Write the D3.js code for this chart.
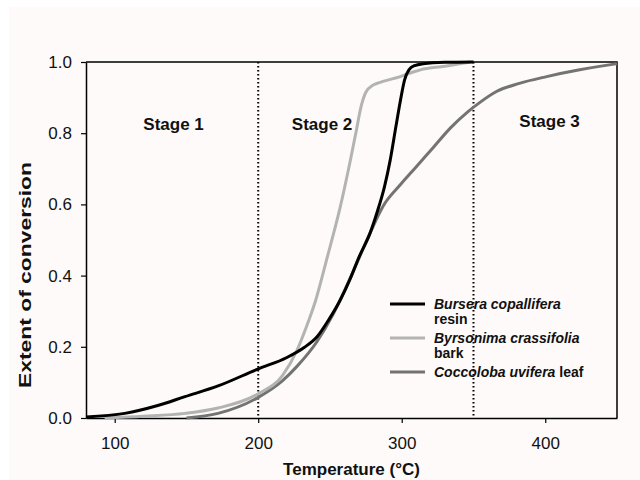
<!DOCTYPE html>
<html>
<head>
<meta charset="utf-8">
<script src="https://cdn.jsdelivr.net/npm/d3@7"></script>
<style>
  html, body { margin: 0; padding: 0; background: #fff; }
  svg { display: block; }
</style>
</head>
<body>
<svg id="chart" width="640" height="480"></svg>
<script>
(() => {

  // temperatures (°C) and extent of conversion
  const burseraT = [80, 107, 130, 149, 172, 200, 220, 232, 241, 249, 257, 264, 270, 278, 283, 288, 292, 296, 299, 302, 305, 309, 315, 330, 350]
  const burseraV = [0.003, 0.013, 0.035, 0.06, 0.09, 0.138, 0.17, 0.198, 0.228, 0.275, 0.33, 0.39, 0.45, 0.52, 0.58, 0.65, 0.725, 0.82, 0.89, 0.95, 0.978, 0.99, 0.995, 0.999, 1.0]

  const byrsonimaT = [93, 120, 149, 172, 200, 217, 227, 233, 240, 248, 257, 264, 268, 272, 275, 280, 285, 299, 308, 313, 330, 348]
  const byrsonimaV = [0.0, 0.005, 0.013, 0.028, 0.068, 0.12, 0.19, 0.25, 0.33, 0.45, 0.59, 0.72, 0.8, 0.88, 0.915, 0.935, 0.943, 0.959, 0.972, 0.978, 0.988, 1.0]

  const coccolobaT = [150, 172, 200, 217, 227, 241, 252, 266, 278, 287, 299, 310, 322, 334, 346, 355, 366, 382, 401, 424, 448, 450]
  const coccolobaV = [0.0, 0.013, 0.058, 0.105, 0.145, 0.215, 0.29, 0.41, 0.52, 0.595, 0.655, 0.705, 0.76, 0.815, 0.86, 0.888, 0.917, 0.94, 0.959, 0.978, 0.994, 0.995]

  const series = [
    { name: 'Bursera copallifera', tail: 'resin', T: burseraT, V: burseraV, color: '#000000' },
    { name: 'Byrsonima crassifolia', tail: 'bark', T: byrsonimaT, V: byrsonimaV, color: '#b3b3b3' },
    { name: 'Coccoloba uvifera', tail: 'leaf', T: coccolobaT, V: coccolobaV, color: '#737373' }
  ]

  const xTicks = [100, 200, 300, 400]
  const yTicks = [0, 0.2, 0.4, 0.6, 0.8, 1.0]
  const stageBounds = [200, 350]
  const stages = [
    { label: 'Stage 1', t: 141, v: 0.809 },
    { label: 'Stage 2', t: 244.5, v: 0.809 },
    { label: 'Stage 3', t: 403, v: 0.817 }
  ]

  const left = 86, right = 617, top = 62, bottom = 418
  const font = 'Arial, "Liberation Sans", sans-serif'

  const x = d3.scaleLinear().domain([80, 450]).range([left, right])
  const y = d3.scaleLinear().domain([0, 1]).range([bottom, top])

  const svg = d3.select('#chart')
    .style('font-family', font)

  svg.append('rect')
    .attr('x', 9).attr('y', 7)
    .attr('width', 631).attr('height', 473)
    .attr('fill', '#fdfaf9')

  // stage separators
  svg.append('g').selectAll('line')
    .data(stageBounds)
    .join('line')
    .attr('x1', d => x(d)).attr('x2', d => x(d))
    .attr('y1', top).attr('y2', bottom)
    .attr('stroke', '#000')
    .attr('stroke-width', 2)
    .attr('stroke-dasharray', '1.5,2.5')

  // axes
  const xAxis = svg.append('g')
    .attr('transform', `translate(0,${bottom})`)
    .call(d3.axisBottom(x).tickValues(xTicks).tickSize(5).tickPadding(14).tickSizeOuter(0))
  const yAxis = svg.append('g')
    .attr('transform', `translate(${left},0)`)
    .call(d3.axisLeft(y).tickValues(yTicks).tickFormat(d3.format('.1f')).tickSize(5).tickPadding(9).tickSizeOuter(0))

  for (const ax of [xAxis, yAxis]) {
    ax.select('.domain').attr('stroke', '#000').attr('stroke-width', 1.5)
    ax.selectAll('.tick line').attr('stroke', '#000').attr('stroke-width', 1.2)
    ax.selectAll('.tick text').attr('fill', '#111').style('font-size', '17px').style('font-family', font)
  }

  // top and right frame
  svg.append('path')
    .attr('d', `M${left},${top}H${right}V${bottom}`)
    .attr('fill', 'none')
    .attr('stroke', '#000')
    .attr('stroke-width', 1.5)

  const line = d3.line()
    .x(d => x(d[0]))
    .y(d => y(d[1]))
    .curve(d3.curveMonotoneX)

  svg.append('g').selectAll('path')
    .data([series[2], series[1], series[0]])
    .join('path')
    .attr('d', d => line(d.T.map((t, i) => [t, d.V[i]])))
    .attr('fill', 'none')
    .attr('stroke', d => d.color)
    .attr('stroke-width', 3)
    .attr('stroke-linejoin', 'round')

  svg.append('g').selectAll('text')
    .data(stages)
    .join('text')
    .attr('x', d => x(d.t))
    .attr('y', d => y(d.v))
    .attr('text-anchor', 'middle')
    .attr('font-weight', 'bold')
    .attr('font-size', 17)
    .attr('fill', '#111')
    .text(d => d.label)

  // legend
  const legend = svg.append('g').attr('transform', 'translate(390,304)')
  const rows = [
    { s: series[0], dy: 0, wrap: true },
    { s: series[1], dy: 34, wrap: true },
    { s: series[2], dy: 68, wrap: false }
  ]
  const item = legend.selectAll('g')
    .data(rows)
    .join('g')
    .attr('transform', d => `translate(0,${d.dy})`)
  item.append('line')
    .attr('x1', 0).attr('x2', 35)
    .attr('stroke', d => d.s.color)
    .attr('stroke-width', 3)
  const txt = item.append('text')
    .attr('x', 44).attr('y', 5)
    .attr('font-size', 14)
    .attr('font-weight', 'bold')
    .attr('fill', '#111')
  txt.append('tspan')
    .attr('font-style', 'italic')
    .text(d => d.s.name)
  txt.filter(d => !d.wrap).append('tspan').text(d => ' ' + d.s.tail)
  item.filter(d => d.wrap).append('text')
    .attr('x', 44).attr('y', 20)
    .attr('font-size', 14)
    .attr('font-weight', 'bold')
    .attr('fill', '#111')
    .text(d => d.s.tail)

  // axis titles
  svg.append('text')
    .attr('x', (left + right) / 2)
    .attr('y', 475)
    .attr('text-anchor', 'middle')
    .attr('font-weight', 'bold')
    .attr('font-size', 17)
    .attr('fill', '#111')
    .text('Temperature (°C)')

  svg.append('text')
    .attr('transform', 'translate(31,275) rotate(-90)')
    .attr('text-anchor', 'middle')
    .attr('font-weight', 'bold')
    .attr('font-size', 16)
    .attr('textLength', 226)
    .attr('lengthAdjust', 'spacingAndGlyphs')
    .attr('fill', '#111')
    .text('Extent of conversion')

})()
</script>
</body>
</html>
